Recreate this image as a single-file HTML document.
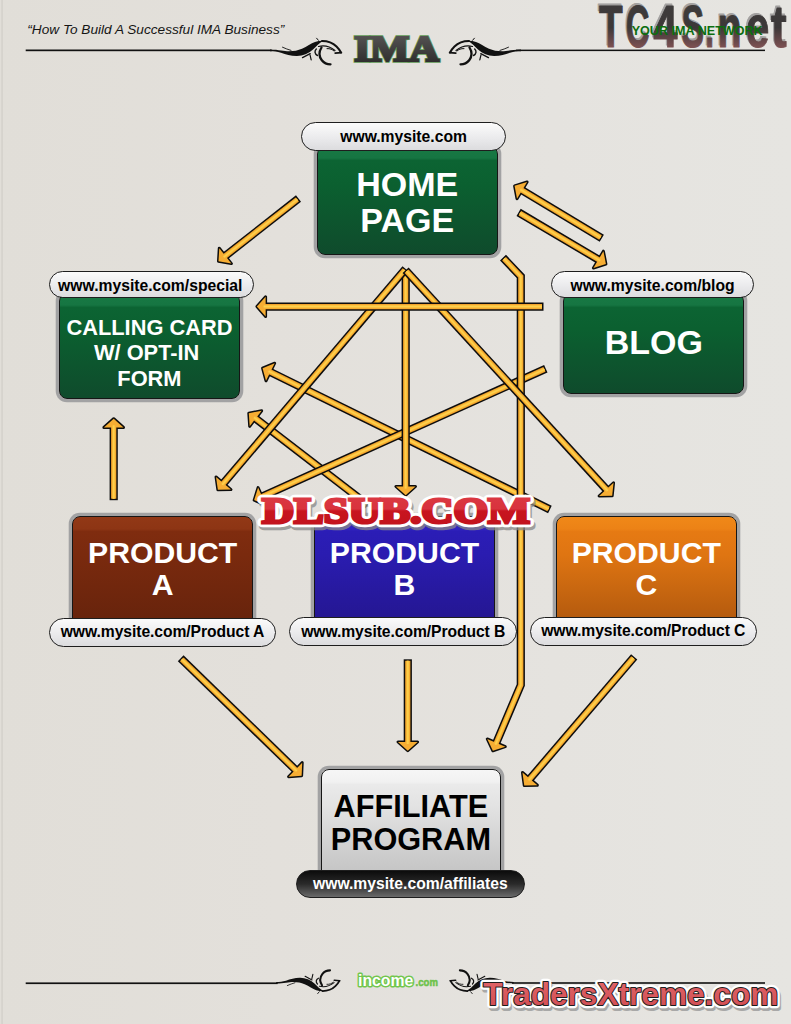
<!DOCTYPE html>
<html><head><meta charset="utf-8">
<style>
*{margin:0;padding:0;box-sizing:border-box}
html,body{width:791px;height:1024px;overflow:hidden}
body{position:relative;background:linear-gradient(90deg,#e1ded8 0%,#e3e0db 35%,#e5e3df 70%,#e6e5e1 100%);font-family:"Liberation Sans",sans-serif}
.abs{position:absolute}
.box{position:absolute;border:1.3px solid #161616;border-radius:8px;box-shadow:0 0 0 3.3px #a2a2a3}
.green{background:linear-gradient(#187a44 0,#167542 11px,#0c6433 13.5px,#0b6030 35%,#0f4b2c 100%)}
.brown{background:linear-gradient(#923816 0,#8d3514 12px,#7f2c0f 14.5px,#7a2a0e 35%,#66230c 100%)}
.blue{background:linear-gradient(#3628c6 0,#3123be 12px,#2b1db6 14.5px,#2a1cb0 35%,#24168f 100%)}
.orange{background:linear-gradient(#f08818 0,#ec8216 12px,#e67a13 14.5px,#df7512 35%,#b0580e 100%)}
.gray{background:linear-gradient(#f6f6f6 0,#f1f1f1 12px,#eaeaea 14.5px,#e2e2e2 35%,#c2c2c2 100%)}
.t{position:absolute;left:0;right:0;text-align:center;color:#fff;font-weight:bold;white-space:nowrap}
.pill{position:absolute;border:1.2px solid #1e1e1e;border-radius:15px;background:linear-gradient(#fbfbfb,#e9e9eb 60%,#dcdcde);text-align:center;font-weight:bold;color:#000;font-size:15.7px;white-space:nowrap}
.pill span{position:absolute;left:0;right:0}
</style></head><body>

<svg id="deco" class="abs" style="left:0;top:0" width="791" height="1024">
<defs>
<linearGradient id="imaG" x1="0" y1="0" x2="0" y2="1"><stop offset="0" stop-color="#5c5a5a"/><stop offset="1" stop-color="#262525"/></linearGradient>
<linearGradient id="tcG2" gradientUnits="userSpaceOnUse" x1="0" y1="7" x2="0" y2="48"><stop offset="0" stop-color="#3e3b3b"/><stop offset="0.5" stop-color="#3c3838"/><stop offset="0.72" stop-color="#5a4344"/><stop offset="1" stop-color="#7e5253"/></linearGradient>
<linearGradient id="tcG" x1="0" y1="0" x2="0" y2="1"><stop offset="0" stop-color="#3d3a3a"/><stop offset="0.45" stop-color="#3b3636"/><stop offset="1" stop-color="#7a4a4c"/></linearGradient>
<linearGradient id="dlG" x1="0" y1="0" x2="0" y2="1"><stop offset="0" stop-color="#dc3a44"/><stop offset="0.45" stop-color="#d8333d"/><stop offset="0.5" stop-color="#c8151f"/><stop offset="1" stop-color="#c0121c"/></linearGradient>
<linearGradient id="txG" x1="0" y1="0" x2="0" y2="1"><stop offset="0" stop-color="#e2676a"/><stop offset="1" stop-color="#cf4a50"/></linearGradient>
<g id="swirl" fill="none" stroke="#111" stroke-linecap="round">
<path d="M270,49.6 C279,49.8 284,51.3 289,51.3 C294,51.3 298,50.5 302,48.8 C307,46.5 311,43.5 315,42 C318,41 320.5,40.6 323.5,40.8 C319.5,43 316,46.5 313,49.5 C308.5,53.5 303,55.8 297,55.9 C291,56 286,54.4 281,52.7 C277,51.6 274,51.3 270,51.2 Z" fill="#111" stroke="none"/>
<path d="M322,41 C328,41 333,43 336.5,46.5 C338.5,48.5 340,50.5 341,52.5" stroke-width="2"/>
<path d="M318.5,46.5 C324,45.2 330,46.5 335,50.5" stroke-width="1.2"/>
<path d="M321.5,47.5 C319,51.5 319,56.5 321.8,60.2 C324,63 327,64.3 330.5,64.3" stroke-width="2.3"/>
<path d="M316.3,49 C314.3,51 314.5,54 317.5,55.5" stroke-width="1.4"/>
<path d="M302.5,57.6 L310.2,53.6" stroke-width="1.3"/>
<path d="M310,54.8 L311.2,59.8" stroke-width="1.2"/>
<path d="M316.6,38.2 L318.4,40.3" stroke-width="1"/>
<path d="M282.5,47.2 C285.5,48.5 288,49.6 291,50.4" stroke-width="0.9"/>
<path d="M335.2,53.2 L341.4,52.6" stroke-width="1.7"/>
<path d="M327,48.6 C330,48.4 332.5,49.5 334,51" stroke-width="1"/>
</g>
</defs>
<rect x="1.2" y="0" width="1.8" height="1024" fill="#d6d3cd"/>
<!-- header -->
<text x="27.3" y="34.2" font-family="Liberation Sans" font-style="italic" font-size="13.7" textLength="257" lengthAdjust="spacingAndGlyphs" fill="#151515">“How To Build A Successful IMA Business”</text>
<rect x="25.7" y="49.5" width="246" height="1.7" fill="#111"/>
<use href="#swirl"/>
<use href="#swirl" transform="translate(791,0) scale(-1,1)"/>
<rect x="516" y="49.6" width="249" height="1.5" fill="#111"/>
<text x="396.6" y="61.4" text-anchor="middle" font-family="Liberation Serif" font-weight="bold" font-size="35.6" textLength="84.5" lengthAdjust="spacingAndGlyphs" fill="#5f9a55" stroke="#5f9a55" stroke-width="3.6" stroke-linejoin="miter">IMA</text>
<text x="396.6" y="61.4" text-anchor="middle" font-family="Liberation Serif" font-weight="bold" font-size="35.6" textLength="84.5" lengthAdjust="spacingAndGlyphs" fill="url(#imaG)" stroke="url(#imaG)" stroke-width="2.2" stroke-linejoin="miter">IMA</text>
<!-- TC4S -->
<defs><g id="tc4s" font-family="Liberation Sans" font-weight="bold" font-size="58.3" stroke-width="1.1" stroke-linejoin="round"><text x="599.1" y="46.6" textLength="23.7" lengthAdjust="spacingAndGlyphs">T</text><text x="625.7" y="46.6" textLength="23.7" lengthAdjust="spacingAndGlyphs">C</text><text x="653.3" y="46.6" textLength="24.2" lengthAdjust="spacingAndGlyphs">4</text><text x="681.6" y="46.6" textLength="22.6" lengthAdjust="spacingAndGlyphs">S</text><text x="705.3" y="46.6" textLength="8.8" lengthAdjust="spacingAndGlyphs">.</text><text x="717.6" y="46.6" textLength="24.1" lengthAdjust="spacingAndGlyphs">n</text><text x="745.9" y="46.6" textLength="23.3" lengthAdjust="spacingAndGlyphs">e</text><text x="771.1" y="46.6" textLength="15.7" lengthAdjust="spacingAndGlyphs">t</text></g></defs>
<use href="#tc4s" transform="translate(-1.3,-1.2)" fill="#a3a1a0" stroke="#a3a1a0"/>
<use href="#tc4s" fill="url(#tcG2)" stroke="url(#tcG2)"/>
<text x="631.7" y="34.5" font-family="Liberation Sans" font-weight="bold" font-size="12.6" textLength="131" lengthAdjust="spacingAndGlyphs" fill="#0b6e0e">YOUR IMA NETWORK</text>
<!-- footer -->
<rect x="25.7" y="982.4" width="252" height="1.7" fill="#111"/>
<use href="#swirl" transform="translate(35.9,1027.6) scale(0.89,-0.89)"/>
<use href="#swirl" transform="translate(754,1027.6) scale(-0.89,-0.89)"/>
<rect x="512" y="982.2" width="253" height="1.6" fill="#111"/>
<text x="358.1" y="985.7" font-family="Liberation Sans" font-weight="bold" font-size="16" textLength="55.2" lengthAdjust="spacingAndGlyphs" fill="#fff" stroke="#72c64e" stroke-width="3" paint-order="stroke" stroke-linejoin="round">income</text>
<text x="415.6" y="986" font-family="Liberation Sans" font-weight="bold" font-size="11" textLength="22.4" lengthAdjust="spacingAndGlyphs" fill="#6cc24a" stroke="#6cc24a" stroke-width="0.5">.com</text>
<!-- TradersXtreme -->
<text x="484.8" y="1007.9" font-family="Liberation Sans" font-weight="bold" font-size="31" textLength="295" lengthAdjust="spacingAndGlyphs" fill="#9a9a9a" stroke="#9a9a9a" stroke-width="6" stroke-linejoin="round" opacity="0.8">TradersXtreme.com</text>
<text x="483.3" y="1005.4" font-family="Liberation Sans" font-weight="bold" font-size="31" textLength="295" lengthAdjust="spacingAndGlyphs" fill="#fff" stroke="#fff" stroke-width="6.5" stroke-linejoin="round">TradersXtreme.com</text>
<text x="483.3" y="1005.4" font-family="Liberation Sans" font-weight="bold" font-size="31" textLength="295" lengthAdjust="spacingAndGlyphs" fill="url(#txG)" stroke="#1e1e1e" stroke-width="2" stroke-linejoin="round" paint-order="stroke">TradersXtreme.com</text>
</svg>
<!-- HOME PAGE -->
<div class="box green" style="left:316.9px;top:146px;width:180.7px;height:109.1px">
  <div class="t" style="top:20px;font-size:34px;line-height:35.6px">HOME<br>PAGE</div>
</div>
<div class="pill" style="left:300.9px;top:122.2px;width:205.4px;height:29.3px"><span style="top:5px">www.mysite.com</span></div>

<!-- CALLING CARD -->
<div class="box green" style="left:58.9px;top:293px;width:181.1px;height:106.1px">
  <div class="t" style="top:20.7px;font-size:21.8px;line-height:25.7px">CALLING CARD<br><span style="position:relative;left:-2.8px">W/ OPT-IN</span><br>FORM</div>
</div>
<div class="pill" style="left:49.1px;top:270.6px;width:204.5px;height:27.8px"><span style="top:5px;left:-2.2px">www.mysite.com/special</span></div>

<!-- BLOG -->
<div class="box green" style="left:563.2px;top:293px;width:181.1px;height:100.8px">
  <div class="t" style="top:30px;font-size:34px;line-height:36px">BLOG</div>
</div>
<div class="pill" style="left:550.6px;top:270.6px;width:203.9px;height:27.6px"><span style="top:5px">www.mysite.com/blog</span></div>

<!-- PRODUCT A -->
<div class="box brown" style="left:72.4px;top:515.6px;width:180.6px;height:110px">
  <div class="t" style="top:20.6px;font-size:30.2px;line-height:32px">PRODUCT<br>A</div>
</div>
<div class="pill" style="left:48.6px;top:617.6px;width:227.8px;height:29px"><span style="top:4.7px;letter-spacing:-0.08px">www.mysite.com/Product A</span></div>

<!-- PRODUCT B -->
<div class="box blue" style="left:313.8px;top:515.6px;width:181.4px;height:110px">
  <div class="t" style="top:20.6px;font-size:30.2px;line-height:32px">PRODUCT<br>B</div>
</div>
<div class="pill" style="left:289.4px;top:617.4px;width:227.7px;height:28.6px"><span style="top:4.7px;letter-spacing:-0.08px">www.mysite.com/Product B</span></div>

<!-- PRODUCT C -->
<div class="box orange" style="left:555.9px;top:515.6px;width:180.8px;height:110px">
  <div class="t" style="top:20.6px;font-size:30.2px;line-height:32px">PRODUCT<br>C</div>
</div>
<div class="pill" style="left:529.9px;top:616.8px;width:226.8px;height:29.3px"><span style="top:4.7px;letter-spacing:-0.08px">www.mysite.com/Product C</span></div>

<!-- AFFILIATE -->
<div class="box gray" style="left:320.6px;top:768.9px;width:180.6px;height:110px">
  <div class="t" style="top:21.6px;color:#000;font-size:30.7px;line-height:32.6px">AFFILIATE<br>PROGRAM</div>
</div>
<div class="pill" style="left:295.8px;top:870px;width:229.1px;height:27.9px;background:linear-gradient(#0c0c0c,#2a2a2a 50%,#6a6a6a);color:#fff"><span style="top:4px">www.mysite.com/affiliates</span></div>

<svg id="arrows" class="abs" style="left:0;top:0" width="791" height="1024">
<!-- A11 -->
<path d="M368.00,505.00 L254.89,417.91" stroke="#0d0d0d" stroke-width="8.2" fill="none" stroke-linejoin="miter"/>
<polygon points="248.79,413.22 261.66,410.76 249.70,426.29" fill="#0d0d0d" stroke="#0d0d0d" stroke-width="3.0" stroke-linejoin="round"/>
<path d="M366.81,504.08 L254.10,417.30" stroke="#f3a42c" stroke-width="5.20" fill="none" stroke-linejoin="miter"/>
<polygon points="248.79,413.22 261.66,410.76 249.70,426.29" fill="#f6ad33"/>
<path d="M366.81,504.08 L254.10,417.30" stroke="#f9bd3c" stroke-width="3.12" fill="none" stroke-linejoin="miter"/>
<path d="M366.81,504.08 L254.10,417.30" stroke="#fdd04c" stroke-width="1.46" fill="none" stroke-linejoin="miter"/>
<!-- A10 -->
<path d="M549.90,509.50 L269.46,371.56" stroke="#0d0d0d" stroke-width="8.2" fill="none" stroke-linejoin="miter"/>
<polygon points="262.55,368.16 274.68,363.21 266.03,380.80" fill="#0d0d0d" stroke="#0d0d0d" stroke-width="3.0" stroke-linejoin="round"/>
<path d="M548.55,508.84 L268.56,371.12" stroke="#f3a42c" stroke-width="5.20" fill="none" stroke-linejoin="miter"/>
<polygon points="262.55,368.16 274.68,363.21 266.03,380.80" fill="#f6ad33"/>
<path d="M548.55,508.84 L268.56,371.12" stroke="#f9bd3c" stroke-width="3.12" fill="none" stroke-linejoin="miter"/>
<path d="M548.55,508.84 L268.56,371.12" stroke="#fdd04c" stroke-width="1.46" fill="none" stroke-linejoin="miter"/>
<!-- A9 -->
<path d="M545.80,368.70 L261.19,496.92" stroke="#0d0d0d" stroke-width="8.2" fill="none" stroke-linejoin="miter"/>
<polygon points="254.17,500.08 258.07,487.58 266.13,505.45" fill="#0d0d0d" stroke="#0d0d0d" stroke-width="3.0" stroke-linejoin="round"/>
<path d="M544.43,369.32 L260.28,497.33" stroke="#f3a42c" stroke-width="5.20" fill="none" stroke-linejoin="miter"/>
<polygon points="254.17,500.08 258.07,487.58 266.13,505.45" fill="#f6ad33"/>
<path d="M544.43,369.32 L260.28,497.33" stroke="#f9bd3c" stroke-width="3.12" fill="none" stroke-linejoin="miter"/>
<path d="M544.43,369.32 L260.28,497.33" stroke="#fdd04c" stroke-width="1.46" fill="none" stroke-linejoin="miter"/>
<!-- A6 -->
<path d="M405.70,273.50 L405.70,487.50" stroke="#0d0d0d" stroke-width="8.2" fill="none" stroke-linejoin="miter"/>
<polygon points="405.70,495.20 395.90,486.50 415.50,486.50" fill="#0d0d0d" stroke="#0d0d0d" stroke-width="3.0" stroke-linejoin="round"/>
<path d="M405.70,275.00 L405.70,488.50" stroke="#f3a42c" stroke-width="5.20" fill="none" stroke-linejoin="miter"/>
<polygon points="405.70,495.20 395.90,486.50 415.50,486.50" fill="#f6ad33"/>
<path d="M405.70,275.00 L405.70,488.50" stroke="#f9bd3c" stroke-width="3.12" fill="none" stroke-linejoin="miter"/>
<path d="M405.70,275.00 L405.70,488.50" stroke="#fdd04c" stroke-width="1.46" fill="none" stroke-linejoin="miter"/>
<!-- A5 -->
<path d="M405.60,268.80 L222.86,483.99" stroke="#0d0d0d" stroke-width="8.2" fill="none" stroke-linejoin="miter"/>
<polygon points="217.87,489.86 216.03,476.88 230.97,489.57" fill="#0d0d0d" stroke="#0d0d0d" stroke-width="3.0" stroke-linejoin="round"/>
<path d="M404.63,269.94 L222.21,484.75" stroke="#f3a42c" stroke-width="5.20" fill="none" stroke-linejoin="miter"/>
<polygon points="217.87,489.86 216.03,476.88 230.97,489.57" fill="#f6ad33"/>
<path d="M404.63,269.94 L222.21,484.75" stroke="#f9bd3c" stroke-width="3.12" fill="none" stroke-linejoin="miter"/>
<path d="M404.63,269.94 L222.21,484.75" stroke="#fdd04c" stroke-width="1.46" fill="none" stroke-linejoin="miter"/>
<!-- A4 -->
<path d="M503.00,257.60 L520.80,276.50 L520.80,685.00 L495.89,743.73" stroke="#0d0d0d" stroke-width="8.2" fill="none" stroke-linejoin="miter"/>
<polygon points="492.89,750.82 487.26,738.98 505.30,746.64" fill="#0d0d0d" stroke="#0d0d0d" stroke-width="3.0" stroke-linejoin="round"/>
<path d="M504.03,258.69 L520.80,276.50 L520.80,685.00 L495.50,744.65" stroke="#f3a42c" stroke-width="5.20" fill="none" stroke-linejoin="miter"/>
<polygon points="492.89,750.82 487.26,738.98 505.30,746.64" fill="#f6ad33"/>
<path d="M504.03,258.69 L520.80,276.50 L520.80,685.00 L495.50,744.65" stroke="#f9bd3c" stroke-width="3.12" fill="none" stroke-linejoin="miter"/>
<path d="M504.03,258.69 L520.80,276.50 L520.80,685.00 L495.50,744.65" stroke="#fdd04c" stroke-width="1.46" fill="none" stroke-linejoin="miter"/>
<!-- A7 -->
<path d="M405.60,270.20 L606.99,490.12" stroke="#0d0d0d" stroke-width="8.2" fill="none" stroke-linejoin="miter"/>
<polygon points="612.19,495.79 599.08,496.00 613.54,482.76" fill="#0d0d0d" stroke="#0d0d0d" stroke-width="3.0" stroke-linejoin="round"/>
<path d="M406.61,271.31 L607.66,490.85" stroke="#f3a42c" stroke-width="5.20" fill="none" stroke-linejoin="miter"/>
<polygon points="612.19,495.79 599.08,496.00 613.54,482.76" fill="#f6ad33"/>
<path d="M406.61,271.31 L607.66,490.85" stroke="#f9bd3c" stroke-width="3.12" fill="none" stroke-linejoin="miter"/>
<path d="M406.61,271.31 L607.66,490.85" stroke="#fdd04c" stroke-width="1.46" fill="none" stroke-linejoin="miter"/>
<!-- A8 -->
<path d="M543.50,306.60 L264.60,306.60" stroke="#0d0d0d" stroke-width="8.2" fill="none" stroke-linejoin="miter"/>
<polygon points="256.90,306.60 265.60,296.80 265.60,316.40" fill="#0d0d0d" stroke="#0d0d0d" stroke-width="3.0" stroke-linejoin="round"/>
<path d="M542.00,306.60 L263.60,306.60" stroke="#f3a42c" stroke-width="5.20" fill="none" stroke-linejoin="miter"/>
<polygon points="256.90,306.60 265.60,296.80 265.60,316.40" fill="#f6ad33"/>
<path d="M542.00,306.60 L263.60,306.60" stroke="#f9bd3c" stroke-width="3.12" fill="none" stroke-linejoin="miter"/>
<path d="M542.00,306.60 L263.60,306.60" stroke="#fdd04c" stroke-width="1.46" fill="none" stroke-linejoin="miter"/>
<!-- A1 -->
<path d="M298.50,198.50 L224.54,256.52" stroke="#0d0d0d" stroke-width="8.2" fill="none" stroke-linejoin="miter"/>
<polygon points="218.48,261.27 219.28,248.19 231.37,263.61" fill="#0d0d0d" stroke="#0d0d0d" stroke-width="3.0" stroke-linejoin="round"/>
<path d="M297.32,199.43 L223.75,257.14" stroke="#f3a42c" stroke-width="5.20" fill="none" stroke-linejoin="miter"/>
<polygon points="218.48,261.27 219.28,248.19 231.37,263.61" fill="#f6ad33"/>
<path d="M297.32,199.43 L223.75,257.14" stroke="#f9bd3c" stroke-width="3.12" fill="none" stroke-linejoin="miter"/>
<path d="M297.32,199.43 L223.75,257.14" stroke="#fdd04c" stroke-width="1.46" fill="none" stroke-linejoin="miter"/>
<!-- A2 -->
<path d="M601.80,238.20 L521.19,189.83" stroke="#0d0d0d" stroke-width="8.2" fill="none" stroke-linejoin="miter"/>
<polygon points="514.59,185.87 527.09,181.94 517.00,198.75" fill="#0d0d0d" stroke="#0d0d0d" stroke-width="3.0" stroke-linejoin="round"/>
<path d="M600.51,237.43 L520.33,189.32" stroke="#f3a42c" stroke-width="5.20" fill="none" stroke-linejoin="miter"/>
<polygon points="514.59,185.87 527.09,181.94 517.00,198.75" fill="#f6ad33"/>
<path d="M600.51,237.43 L520.33,189.32" stroke="#f9bd3c" stroke-width="3.12" fill="none" stroke-linejoin="miter"/>
<path d="M600.51,237.43 L520.33,189.32" stroke="#fdd04c" stroke-width="1.46" fill="none" stroke-linejoin="miter"/>
<!-- A3 -->
<path d="M518.60,212.40 L599.28,260.12" stroke="#0d0d0d" stroke-width="8.2" fill="none" stroke-linejoin="miter"/>
<polygon points="605.91,264.04 593.43,268.04 603.41,251.17" fill="#0d0d0d" stroke="#0d0d0d" stroke-width="3.0" stroke-linejoin="round"/>
<path d="M519.89,213.16 L600.14,260.63" stroke="#f3a42c" stroke-width="5.20" fill="none" stroke-linejoin="miter"/>
<polygon points="605.91,264.04 593.43,268.04 603.41,251.17" fill="#f6ad33"/>
<path d="M519.89,213.16 L600.14,260.63" stroke="#f9bd3c" stroke-width="3.12" fill="none" stroke-linejoin="miter"/>
<path d="M519.89,213.16 L600.14,260.63" stroke="#fdd04c" stroke-width="1.46" fill="none" stroke-linejoin="miter"/>
<!-- A12 -->
<path d="M113.70,500.20 L113.70,426.40" stroke="#0d0d0d" stroke-width="8.2" fill="none" stroke-linejoin="miter"/>
<polygon points="113.70,418.70 123.50,427.40 103.90,427.40" fill="#0d0d0d" stroke="#0d0d0d" stroke-width="3.0" stroke-linejoin="round"/>
<path d="M113.70,498.70 L113.70,425.40" stroke="#f3a42c" stroke-width="5.20" fill="none" stroke-linejoin="miter"/>
<polygon points="113.70,418.70 123.50,427.40 103.90,427.40" fill="#f6ad33"/>
<path d="M113.70,498.70 L113.70,425.40" stroke="#f9bd3c" stroke-width="3.12" fill="none" stroke-linejoin="miter"/>
<path d="M113.70,498.70 L113.70,425.40" stroke="#fdd04c" stroke-width="1.46" fill="none" stroke-linejoin="miter"/>
<!-- A13 -->
<path d="M180.70,658.30 L296.10,770.39" stroke="#0d0d0d" stroke-width="8.2" fill="none" stroke-linejoin="miter"/>
<polygon points="301.62,775.75 288.56,776.72 302.21,762.66" fill="#0d0d0d" stroke="#0d0d0d" stroke-width="3.0" stroke-linejoin="round"/>
<path d="M181.78,659.35 L296.82,771.09" stroke="#f3a42c" stroke-width="5.20" fill="none" stroke-linejoin="miter"/>
<polygon points="301.62,775.75 288.56,776.72 302.21,762.66" fill="#f6ad33"/>
<path d="M181.78,659.35 L296.82,771.09" stroke="#f9bd3c" stroke-width="3.12" fill="none" stroke-linejoin="miter"/>
<path d="M181.78,659.35 L296.82,771.09" stroke="#fdd04c" stroke-width="1.46" fill="none" stroke-linejoin="miter"/>
<!-- A14 -->
<path d="M407.80,659.30 L407.80,743.00" stroke="#0d0d0d" stroke-width="8.2" fill="none" stroke-linejoin="miter"/>
<polygon points="407.80,750.70 398.00,742.00 417.60,742.00" fill="#0d0d0d" stroke="#0d0d0d" stroke-width="3.0" stroke-linejoin="round"/>
<path d="M407.80,660.80 L407.80,744.00" stroke="#f3a42c" stroke-width="5.20" fill="none" stroke-linejoin="miter"/>
<polygon points="407.80,750.70 398.00,742.00 417.60,742.00" fill="#f6ad33"/>
<path d="M407.80,660.80 L407.80,744.00" stroke="#f9bd3c" stroke-width="3.12" fill="none" stroke-linejoin="miter"/>
<path d="M407.80,660.80 L407.80,744.00" stroke="#fdd04c" stroke-width="1.46" fill="none" stroke-linejoin="miter"/>
<!-- A15 -->
<path d="M634.20,656.90 L529.28,779.61" stroke="#0d0d0d" stroke-width="8.2" fill="none" stroke-linejoin="miter"/>
<polygon points="524.27,785.46 522.48,772.48 537.38,785.22" fill="#0d0d0d" stroke="#0d0d0d" stroke-width="3.0" stroke-linejoin="round"/>
<path d="M633.23,658.04 L528.63,780.37" stroke="#f3a42c" stroke-width="5.20" fill="none" stroke-linejoin="miter"/>
<polygon points="524.27,785.46 522.48,772.48 537.38,785.22" fill="#f6ad33"/>
<path d="M633.23,658.04 L528.63,780.37" stroke="#f9bd3c" stroke-width="3.12" fill="none" stroke-linejoin="miter"/>
<path d="M633.23,658.04 L528.63,780.37" stroke="#fdd04c" stroke-width="1.46" fill="none" stroke-linejoin="miter"/>
</svg>

<svg id="dlsub" class="abs" style="left:0;top:0" width="791" height="1024">
<text x="263.5" y="525.5" font-family="Liberation Serif" font-weight="bold" font-size="36" textLength="268" lengthAdjust="spacingAndGlyphs" fill="#888" stroke="#888" stroke-width="8.6" stroke-linejoin="round" opacity="0.75">DLSUB.COM</text>
<text x="262" y="523" font-family="Liberation Serif" font-weight="bold" font-size="36" textLength="268" lengthAdjust="spacingAndGlyphs" fill="#fff" stroke="#fff" stroke-width="8.6" stroke-linejoin="round">DLSUB.COM</text>
<text x="262" y="523" font-family="Liberation Serif" font-weight="bold" font-size="36" textLength="268" lengthAdjust="spacingAndGlyphs" fill="url(#dlG)" stroke="url(#dlG)" stroke-width="3" stroke-linejoin="miter">DLSUB.COM</text>
</svg>
</body></html>
